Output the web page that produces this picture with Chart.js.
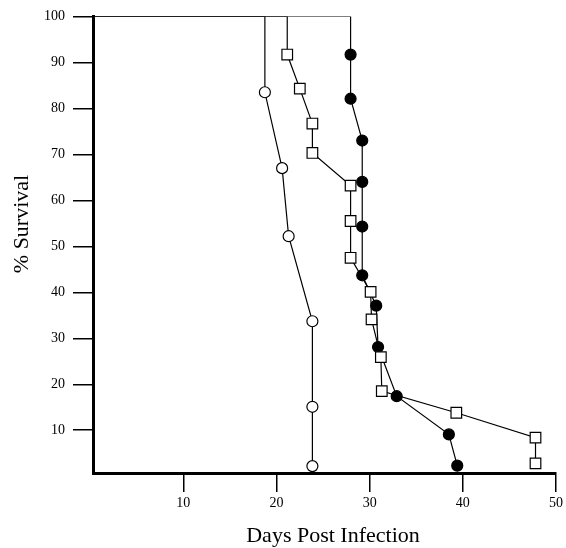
<!DOCTYPE html>
<html>
<head>
<meta charset="utf-8">
<script src="https://cdn.jsdelivr.net/npm/chart.js@4.4.0/dist/chart.umd.min.js"></script>
<style>
    html, body { margin: 0; padding: 0; background: #fff; }
    canvas { display: block; }
</style>
</head>
<body>
<canvas id="survivalChart" width="566" height="548"></canvas>
<script>
// each series starts on the 100% plateau (first two points carry no marker)
const openDays = [0, 18.75, 18.75, 20.6, 21.3, 23.85, 23.85, 23.85];
const openSurvival = [100, 100, 83.5, 67, 52.2, 33.7, 15.1, 2.2];

const squareDays = [0, 21.15, 21.15, 22.5, 23.85, 23.85, 27.95, 27.95, 27.95, 30.1, 30.2, 31.2, 31.3, 39.3, 47.8, 47.8];
const squareSurvival = [100, 100, 91.7, 84.3, 76.7, 70.3, 63.2, 55.5, 47.5, 40.1, 34.1, 25.9, 18.5, 13.8, 8.4, 2.8];

const filledDays = [0, 27.95, 27.95, 27.95, 29.2, 29.2, 29.2, 29.2, 30.7, 30.9, 32.9, 38.5, 39.4];
const filledSurvival = [100, 100, 91.7, 82.1, 73.0, 64.0, 54.3, 43.7, 37.1, 28.1, 17.4, 9.1, 2.3];

const xTicks = [10, 20, 30, 40, 50];
const yTicks = [10, 20, 30, 40, 50, 60, 70, 80, 90, 100];
const xTitle = "Days Post Infection";
const yTitle = "% Survival";

const serif = '"Liberation Serif", "Times New Roman", serif';

function toPoints(days, surv) {
    return days.map((d, i) => ({ x: d, y: surv[i] }));
}

// no marker on the plateau points
function markerSizes(days, r) {
    return days.map((d, i) => i < 2 ? 0 : r);
}

function makeSeries(days, surv, style, radius, fill) {
    return {
        data: toPoints(days, surv),
        showLine: true,
        borderColor: '#000',
        borderWidth: 1.2,
        pointStyle: style,
        pointRadius: markerSizes(days, radius),
        pointBorderColor: '#000',
        pointBorderWidth: 1.2,
        pointBackgroundColor: fill,
        tension: 0
    };
}

const axisTitles = {
    id: 'axisTitles',
    afterDraw(chart) {
        const ctx = chart.ctx;
        ctx.save();
        ctx.fillStyle = '#000';
        ctx.font = '22px ' + serif;
        ctx.textAlign = 'center';
        ctx.textBaseline = 'alphabetic';
        ctx.fillText(xTitle, 333, 542);
        ctx.translate(28, 224);
        ctx.rotate(-Math.PI / 2);
        ctx.fillText(yTitle, 0, 0);
        ctx.restore();
    }
};

function axisOpts(min, max, ticks, tickLen, pad) {
    return {
        type: 'linear',
        min: min,
        max: max,
        afterBuildTicks: s => { s.ticks = ticks.map(v => ({ value: v })); },
        grid: { drawOnChartArea: false, drawTicks: true, tickLength: tickLen, color: '#000', lineWidth: 1.5 },
        border: { display: true, color: '#000', width: 3 },
        ticks: { color: '#000', font: { family: serif, size: 14 }, padding: pad, autoSkip: false, maxRotation: 0 }
    };
}

window.onload = () => {
    const ctx = document.getElementById('survivalChart').getContext('2d');
    const xOpts = axisOpts(0.3, 50, xTicks, 19, 3);
    xOpts.afterFit = s => { s.height = 75; };
    const yOpts = axisOpts(0.7, 100, yTicks, 20, 8);
    yOpts.afterFit = s => { s.width = 93; };

    new Chart(ctx, {
        type: 'scatter',
        data: {
            datasets: [
                makeSeries(openDays, openSurvival, 'circle', 5.5, '#fff'),
                makeSeries(squareDays, squareSurvival, 'rect', 7.5, '#fff'),
                makeSeries(filledDays, filledSurvival, 'circle', 5.5, '#000')
            ]
        },
        options: {
            responsive: false,
            animation: false,
            layout: { padding: { top: 16, right: 10, left: 0, bottom: 0 } },
            plugins: { legend: { display: false }, tooltip: { enabled: false } },
            scales: { x: xOpts, y: yOpts }
        },
        plugins: [axisTitles]
    });
};
</script>
</body>
</html>
